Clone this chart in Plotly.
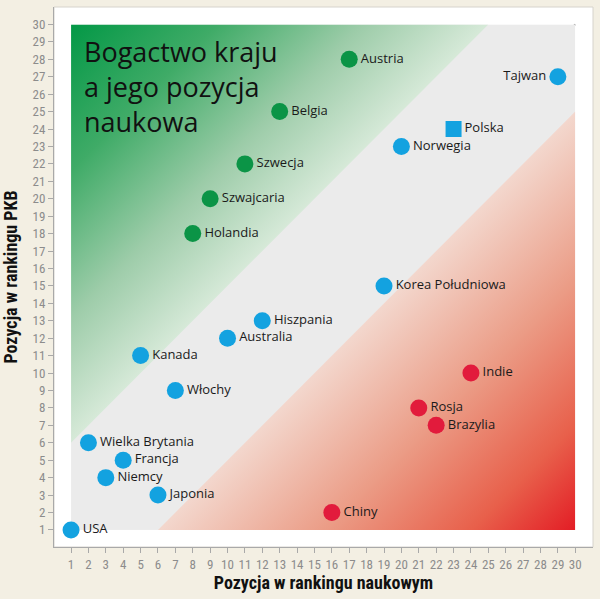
import base64
import plotly.graph_objects as go

# ---- data ----
countries = ["USA", "Wielka Brytania", "Francja", "Niemcy", "Japonia", "Włochy", "Kanada",
             "Australia", "Hiszpania", "Korea Południowa", "Norwegia", "Tajwan",
             "Austria", "Belgia", "Szwecja", "Szwajcaria", "Holandia",
             "Indie", "Rosja", "Brazylia", "Chiny"]
sci_rank = [1, 2, 4, 3, 6, 7, 5, 10, 12, 19, 20, 29, 17, 13, 11, 9, 8, 24, 21, 22, 16]
gdp_rank = [1, 6, 5, 4, 3, 9, 11, 12, 13, 15, 23, 27, 28, 25, 22, 20, 18, 10, 8, 7, 2]
group = ["blue"] * 12 + ["green"] * 5 + ["red"] * 4

poland_label = ["Polska"]
poland_sci = [23]
poland_gdp = [24]

ticks = list(range(1, 31))
band_offset = 5  # half-width of the neutral band (ranks)
rank_min, rank_max = 1, 30

colors = {"blue": "#13a2e0", "green": "#0b9446", "red": "#e21b3c"}

# ---- background gradient image (decorative) ----
W = rank_max - rank_min
o = band_offset
svg = f'''<svg xmlns="http://www.w3.org/2000/svg" width="580" height="580" viewBox="0 0 {W} {W}" preserveAspectRatio="none">
<defs>
<linearGradient id="g" gradientUnits="userSpaceOnUse" x1="0" y1="0" x2="{(W-o)/2}" y2="{(W-o)/2}">
<stop offset="0" stop-color="#039846"/>
<stop offset="0.35" stop-color="#3fab67"/>
<stop offset="0.7" stop-color="#9dcca9"/>
<stop offset="1" stop-color="#d6e9d8"/>
</linearGradient>
<linearGradient id="r" gradientUnits="userSpaceOnUse" x1="{(W+o)/2}" y1="{(W+o)/2}" x2="{W}" y2="{W}">
<stop offset="0" stop-color="#f3d7cd"/>
<stop offset="0.4" stop-color="#eb9c86"/>
<stop offset="0.75" stop-color="#e8604b"/>
<stop offset="1" stop-color="#e31d25"/>
</linearGradient>
</defs>
<rect x="0" y="0" width="{W}" height="{W}" fill="#ebebeb"/>
<polygon points="0,0 {W-o},0 0,{W-o}" fill="url(#g)"/>
<polygon points="{o},{W} {W},{W} {W},{o}" fill="url(#r)"/>
</svg>'''
src = "data:image/svg+xml;base64," + base64.b64encode(svg.encode()).decode()

fig = go.Figure()

label_font = dict(family="Open Sans, sans-serif", size=13, color="#1a1a1a")

for g in ["blue", "green", "red"]:
    idx = [i for i, gg in enumerate(group) if gg == g]
    fig.add_trace(go.Scatter(
        x=[sci_rank[i] for i in idx], y=[gdp_rank[i] for i in idx],
        mode="markers+text",
        text=[countries[i] for i in idx],
        textposition=["middle left" if countries[i] == "Tajwan" else "middle right" for i in idx],
        textfont=label_font,
        marker=dict(size=17, color=colors[g], line=dict(width=0)),
        cliponaxis=False, showlegend=False, hoverinfo="text"))

fig.add_trace(go.Scatter(
    x=poland_sci, y=poland_gdp, mode="markers+text", text=poland_label,
    textposition="middle right", textfont=label_font,
    marker=dict(size=16, symbol="square", color=colors["blue"]),
    cliponaxis=False, showlegend=False))

fig.add_layout_image(dict(source=src, xref="x", yref="y", x=rank_min, y=rank_max,
                          sizex=W, sizey=W, sizing="stretch", layer="below"))

fig.add_shape(type="line", xref="x", yref="y", x0=rank_min, y0=rank_min, x1=rank_max, y1=rank_max,
              line=dict(color="#a3a3a3", width=1.6), layer="below")

fig.add_shape(type="rect", xref="paper", yref="paper", x0=0, y0=0, x1=1, y1=1,
              line=dict(color="#d6d3cc", width=1), layer="below")

fig.add_annotation(xref="paper", yref="paper", x=0.052, y=0.955, xanchor="left", yanchor="top",
                   text="Bogactwo kraju<br>a jego pozycja<br>naukowa", showarrow=False, align="left",
                   font=dict(family="Open Sans, sans-serif", size=27, color="#111111"))

tick_font = dict(family="Liberation Sans Narrow, Roboto Condensed, Roboto, sans-serif", size=13, color="#8c8c8c")
title_font = dict(family="Liberation Sans Narrow, Roboto Condensed, Roboto, sans-serif", size=18, color="#111111")

axis_common = dict(range=[0.02, 31.02], tickmode="array", tickvals=ticks, ticktext=[str(t) for t in ticks],
                   showgrid=False, zeroline=False, showline=True, linecolor="#a9a9a9", linewidth=1,
                   ticks="outside", ticklen=5, tickcolor="#a9a9a9", tickfont=tick_font, fixedrange=True,
                   automargin=False)

fig.update_xaxes(**axis_common, title=dict(text="<b>Pozycja w rankingu naukowym</b>", font=title_font, standoff=2))
fig.update_yaxes(**axis_common, title=dict(text="<b>Pozycja w rankingu PKB</b>", font=title_font, standoff=10))
fig.update_yaxes(range=[0.02, 31.0])

fig.update_layout(width=600, height=599, margin=dict(l=54, r=7, t=7, b=52),
                  paper_bgcolor="#f3efe3", plot_bgcolor="#ffffff")

fig.write_html("out.html", config={"displayModeBar": False},
               post_script="document.body.style.margin='0';document.body.style.background='#f3efe3';")
